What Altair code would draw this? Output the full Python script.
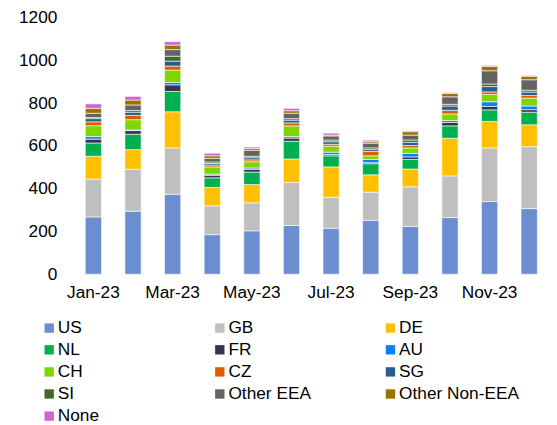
import altair as alt
import pandas as pd

months = ["Jan-23", "Feb-23", "Mar-23", "Apr-23", "May-23", "Jun-23",
          "Jul-23", "Aug-23", "Sep-23", "Oct-23", "Nov-23", "Dec-23"]
shown_months = ["Jan-23", "Mar-23", "May-23", "Jul-23", "Sep-23", "Nov-23"]

countries = ["US", "GB", "DE", "NL", "FR", "AU", "CH", "CZ", "SG", "SI",
             "Other EEA", "Other Non-EEA", "None"]
colors = ["#6A8ECF", "#BFBFBF", "#FFC000", "#00B050", "#3D3052", "#0A80FF",
          "#7ED600", "#E05A00", "#255E91", "#43682B", "#636363", "#997300",
          "#CC66CC"]

US = [268, 295, 374, 185, 203, 228, 215, 252, 224, 265, 340, 307]
GB = [177, 196, 217, 135, 131, 201, 145, 132, 185, 195, 251, 290]
DE = [107, 92, 169, 86, 86, 110, 142, 81, 83, 176, 124, 102]
NL = [62, 72, 95, 45, 58, 83, 52, 52, 45, 58, 54, 59]
FR = [18, 17, 31, 12, 13, 15, 6, 5, 12, 16, 16, 12]
AU = [12, 3, 11, 5, 6, 7, 11, 15, 16, 9, 22, 17]
CH = [51, 48, 58, 34, 29, 50, 28, 17, 26, 31, 34, 37]
CZ = [18, 20, 19, 9, 9, 14, 9, 20, 11, 17, 12, 12]
SG = [15, 15, 23, 7, 10, 13, 12, 9, 15, 20, 25, 16]
SI = [5, 8, 23, 7, 7, 7, 8, 8, 11, 8, 12, 9]
OTHER_EEA = [20, 26, 31, 17, 28, 25, 19, 22, 23, 35, 62, 49]
OTHER_NON_EEA = [23, 23, 21, 12, 8, 12, 4, 7, 16, 16, 20, 16]
NONE = [21, 17, 16, 12, 7, 11, 9, 7, 4, 4, 5, 4]

series = [US, GB, DE, NL, FR, AU, CH, CZ, SG, SI, OTHER_EEA, OTHER_NON_EEA, NONE]

rows = []
for idx, (name, vals) in enumerate(zip(countries, series)):
    for m, v in zip(months, vals):
        rows.append({"month": m, "country": name, "value": v, "idx": idx})
df = pd.DataFrame(rows)

FONT = "Liberation Sans"

chart = alt.Chart(df).mark_bar(stroke="white", strokeWidth=0.6).encode(
    x=alt.X("month:N", sort=months, title=None,
            scale=alt.Scale(paddingInner=0.59, paddingOuter=0.295),
            axis=alt.Axis(values=shown_months, labelAngle=0, domain=False,
                          ticks=False, labelPadding=10, labelFontSize=17.5,
                          labelFont=FONT, labelColor="#000000",
                          labelOverlap=False)),
    y=alt.Y("value:Q", title=None, stack="zero",
            scale=alt.Scale(domain=[0, 1200], nice=False),
            axis=alt.Axis(values=[0, 200, 400, 600, 800, 1000, 1200],
                          format="d", grid=False, domain=False, ticks=False,
                          labelPadding=17, labelFontSize=17.5, labelFont=FONT,
                          labelColor="#000000")),
    color=alt.Color("country:N", sort=countries,
                    scale=alt.Scale(domain=countries, range=colors),
                    legend=alt.Legend(title=None, orient="none", columns=3,
                                      direction="horizontal",
                                      legendX=-33.5, legendY=305.5,
                                      symbolType="square", symbolSize=90,
                                      symbolStrokeWidth=0, labelFontSize=17.5,
                                      labelFont=FONT, labelColor="#000000",
                                      labelOffset=0, columnPadding=33,
                                      rowPadding=3.4, gridAlign="all",
                                      padding=0, labelLimit=300,
                                      symbolLimit=0)),
    order=alt.Order("idx:Q", sort="ascending"),
).properties(
    width=482, height=260,
    padding={"left": 66.5, "top": 7, "right": 0, "bottom": 150},
    autosize=alt.AutoSizeParams(type="none"),
).configure_view(stroke=None)

chart.save("out.html", embed_options={"renderer": "svg", "actions": False})
